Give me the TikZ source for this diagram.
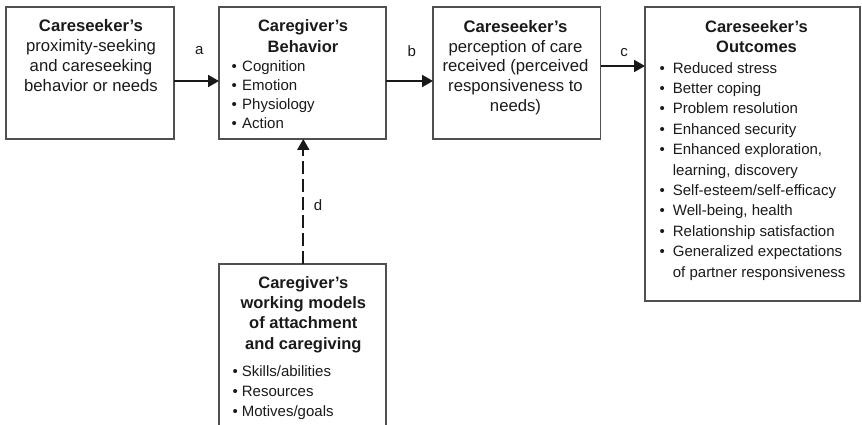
\documentclass[tikz,border=0pt]{standalone}
\usepackage{fontspec}
\setmainfont{Liberation Sans}
\usetikzlibrary{arrows.meta}
\definecolor{boxline}{HTML}{505050}
\definecolor{txt}{HTML}{1A1A1A}
\newcommand\mybul[1]{\makebox[#1][l]{•}}
\begin{document}
\begin{tikzpicture}[x=1pt,y=-1pt,
  box/.style={draw=boxline,line width=1.2pt,inner sep=0pt,outer sep=0pt,rectangle},
  mixtext/.style={font=\fontsize{16.7}{19.9}\selectfont,align=center,inner sep=0pt,anchor=north,text=txt},
  headtext/.style={font=\fontsize{16.5}{20.2}\selectfont\bfseries,align=center,inner sep=0pt,anchor=north,text=txt},
  bultext/.style={font=\fontsize{15}{#1}\selectfont,align=left,inner sep=0pt,anchor=north west,text=txt},
  lbl/.style={font=\fontsize{15}{18}\selectfont,inner sep=0pt,text=txt},
  arr/.style={line width=2pt,draw=black!90,-{Triangle[length=11pt,width=12pt]}},
  darr/.style={arr,dash pattern=on 13pt off 5pt}
]
\useasboundingbox (0,0) rectangle (862,425);
\clip (0,0) rectangle (862,425);

% boxes
\node[box,minimum width=168pt,minimum height=132pt] (b1) at (90,73) {};
\node[box,minimum width=167pt,minimum height=132pt] (b2) at (302.5,73) {};
\node[box,minimum width=167.5pt,minimum height=132pt] (b3) at (516.75,73) {};
\node[box,minimum width=215pt,minimum height=294pt] (b4) at (752.5,154) {};
\node[box,minimum width=167pt,minimum height=196pt] (b5) at (302.5,362) {};

% box 1
\node[mixtext] (t1) at (91,19.3) {{\bfseries Careseeker’s}\\proximity-seeking\\and careseeking\\behavior or needs};

% box 2
\node[headtext] (h2) at (303,19.7) {Caregiver’s\\Behavior};
\node[bultext=19] (l2) at (231.4,60.1) {\mybul{10.6pt}Cognition\\\mybul{10.6pt}Emotion\\\mybul{10.6pt}Physiology\\\mybul{10.6pt}Action};

% box 3
\node[mixtext] (t3) at (515.5,19.8) {{\bfseries Careseeker’s}\\perception of care\\received (perceived\\responsiveness to\\needs)};

% box 4
\node[headtext] (h4) at (756.5,20) {Careseeker’s\\Outcomes};
\node[bultext=20.4] (l4) at (659.4,62.1) {\mybul{13.3pt}Reduced stress\\
\mybul{13.3pt}Better coping\\
\mybul{13.3pt}Problem resolution\\
\mybul{13.3pt}Enhanced security\\
\mybul{13.3pt}Enhanced exploration,\\
\hspace*{13.3pt}learning, discovery\\
\mybul{13.3pt}Self-esteem/self-efficacy\\
\mybul{13.3pt}Well-being, health\\
\mybul{13.3pt}Relationship satisfaction\\
\mybul{13.3pt}Generalized expectations\\
\hspace*{13.3pt}of partner responsiveness};

% box 5
\node[headtext] (h5) at (303.3,276.3) {Caregiver’s\\working models\\of attachment\\and caregiving};
\node[bultext=19.7] (l5) at (232.4,365.8) {\mybul{9.3pt}Skills/abilities\\\mybul{9.3pt}Resources\\\mybul{9.3pt}Motives/goals};

% connectors
\draw[arr] ([yshift=-8pt]b1.east) -- ([yshift=-8pt]b2.west);
\draw[arr] ([yshift=-8pt]b2.east) -- ([yshift=-8pt]b3.west);
\draw[arr] ([yshift=7pt]b3.east) -- ([yshift=7pt]b3.east -| b4.west);
\draw[darr] ([xshift=0.8pt]b5.north) -- ([xshift=0.8pt]b2.south);

% labels
\node[lbl] (la) at (199.3,50.5) {a};
\node[lbl] (lb) at (411.7,51) {b};
\node[lbl] (lc) at (624,52.5) {c};
\node[lbl] (ld) at (318,205) {d};
\end{tikzpicture}
\end{document}
